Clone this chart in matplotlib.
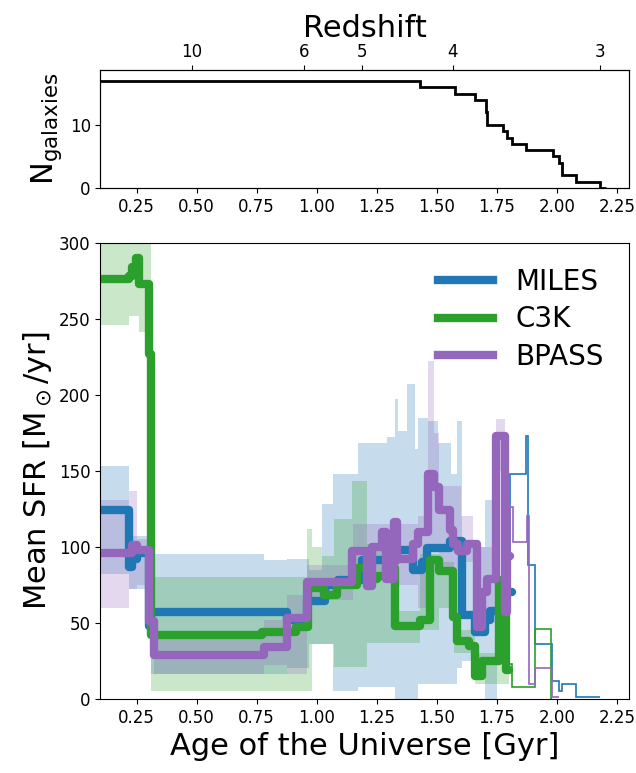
import matplotlib
matplotlib.use("Agg")
import matplotlib.pyplot as plt
import numpy as np

# --- number of galaxies contributing vs. age ---
n_edges = [0.10, 1.429, 1.574, 1.660, 1.703, 1.705, 1.707, 1.709, 1.777, 1.794,
           1.812, 1.870, 1.985, 2.007, 2.021, 2.080, 2.181, 2.204]
n_gal = [17, 16, 15, 14, 13, 12, 11, 10, 9, 8, 7, 6, 5, 4, 2, 1, 0]

# redshift ticks on the top axis (age in Gyr where each z sits)
z_labels = ["10", "6", "5", "4", "3"]
z_ages = [0.479, 0.946, 1.190, 1.566, 2.181]

# --- MILES ---
miles_edges = [0.10, 0.218, 0.232, 0.250, 0.300, 0.312, 0.877, 0.960, 1.035, 1.090,
               1.190, 1.333, 1.400, 1.440, 1.458, 1.556, 1.604, 1.660, 1.700, 1.722,
               1.790, 1.812]
miles_sfr = [124, 87, 92, 96, 48, 57, 52, 64, 75, 78, 91, 98, 85, 90, 99, 104, 55, 44,
             52, 58, 70]
miles_thin_edges = [1.790, 1.806, 1.872, 1.878, 1.910, 1.978, 2.007, 2.021, 2.080, 2.181]
miles_thin_sfr = [70, 148, 173, 88, 36, 12, 5, 9.5, 1]
miles_band_edges = [0.10, 0.218, 0.300, 0.312, 0.780, 0.877, 0.968, 1.021, 1.069, 1.173,
                    1.291, 1.326, 1.340, 1.375, 1.409, 1.423, 1.465, 1.507, 1.560, 1.583,
                    1.604, 1.700, 1.750, 1.806]
miles_lo = [82, 72, 40, 16, 16, 20, 36, 36, 5, 8, 8, 0, 0, 0, 0, 10, 10, 10, 10, 20,
            25, 0, 40]
miles_hi = [153, 107, 100, 95, 91, 92, 85, 128, 148, 168, 172, 197, 176, 207, 164, 185,
            183, 168, 148, 183, 100, 131, 80]

# --- C3K ---
c3k_edges = [0.10, 0.218, 0.232, 0.246, 0.262, 0.300, 0.312, 0.774, 0.912, 0.965,
             1.030, 1.085, 1.167, 1.215, 1.250, 1.290, 1.326, 1.430, 1.470, 1.510,
             1.569, 1.583, 1.632, 1.660, 1.687, 1.760, 1.790, 1.800]
c3k_sfr = [276, 278, 284, 290, 273, 227, 42, 44, 47, 73, 68, 75, 86, 79, 81, 86, 48, 52,
           91, 84, 54, 38, 35, 15, 25, 78, 19]
c3k_thin_edges = [1.790, 1.800, 1.812, 1.907, 1.975, 1.980]
c3k_thin_sfr = [19, 23, 8, 46, 0]
c3k_band_edges = [0.10, 0.218, 0.262, 0.312, 0.960, 0.980, 1.024, 1.072, 1.146, 1.208,
                  1.326, 1.430, 1.510, 1.570, 1.660, 1.800]
c3k_lo = [246, 252, 241, 5, 5, 36, 36, 21, 21, 37, 37, 45, 60, 30, 10]
c3k_hi = [310, 310, 310, 80, 112, 100, 94, 118, 143, 102, 58, 95, 90, 45, 30]

# --- BPASS ---
bpass_edges = [0.10, 0.232, 0.250, 0.300, 0.322, 0.780, 0.877, 0.960, 1.146, 1.208,
               1.229, 1.270, 1.290, 1.320, 1.333, 1.400, 1.423, 1.465, 1.490, 1.510,
               1.555, 1.569, 1.590, 1.625, 1.667, 1.690, 1.708, 1.748, 1.782, 1.792,
               1.806]
bpass_sfr = [96, 101, 98, 51, 29, 34, 53, 77, 97, 74, 100, 110, 79, 116, 92, 102, 110,
             148, 139, 124, 111, 102, 97, 102, 47, 70, 79, 173, 57, 94]
bpass_thin_edges = [1.792, 1.806, 1.819, 1.875, 1.883, 1.909, 1.978, 2.007]
bpass_thin_sfr = [94, 126, 103, 120, 10, 20.5, 1]
bpass_band_edges = [0.10, 0.218, 0.250, 0.300, 0.322, 0.780, 0.877, 0.960, 1.150, 1.330,
                    1.420, 1.465, 1.490, 1.510, 1.600, 1.650, 1.748, 1.782, 1.806]
bpass_lo = [60, 72, 75, 45, 16, 22, 16, 65, 80, 75, 60, 100, 100, 85, 90, 50, 150, 55]
bpass_hi = [131, 137, 105, 100, 41, 52, 68, 88, 115, 115, 120, 222, 175, 140, 120, 100,
            184, 100]

series = [
    ("MILES", "tab:blue", miles_edges, miles_sfr, miles_thin_edges, miles_thin_sfr,
     miles_band_edges, miles_lo, miles_hi),
    ("C3K", "tab:green", c3k_edges, c3k_sfr, c3k_thin_edges, c3k_thin_sfr,
     c3k_band_edges, c3k_lo, c3k_hi),
    ("BPASS", "tab:purple", bpass_edges, bpass_sfr, bpass_thin_edges, bpass_thin_sfr,
     bpass_band_edges, bpass_lo, bpass_hi),
]

fig = plt.figure(figsize=(6.36, 7.73), dpi=100)
ax_n = fig.add_axes([0.158, 0.757, 0.831, 0.152])
ax = fig.add_axes([0.158, 0.096, 0.831, 0.590])

xticks = np.arange(0.25, 2.26, 0.25)

# top panel
ax_n.stairs(n_gal, n_edges, baseline=None, color="k", lw=2)
ax_n.set_xlim(0.1, 2.3)
ax_n.set_ylim(0, 18.7)
ax_n.set_xticks(xticks)
ax_n.set_yticks([0, 10])
ax_n.tick_params(labelsize=12)
ax_n.set_ylabel(r"N$_{\mathrm{galaxies}}$", fontsize=22)

ax_z = ax_n.twiny()
ax_z.set_xlim(ax_n.get_xlim())
ax_z.set_xticks(z_ages, z_labels)
ax_z.tick_params(labelsize=12)
ax_z.set_xlabel("Redshift", fontsize=22)

# bottom panel: bands first, then lines
for name, col, e, v, te, tv, be, lo, hi in series:
    ax.stairs(hi, be, baseline=lo, fill=True, color=col, alpha=0.25, lw=0)
for name, col, e, v, te, tv, be, lo, hi in series:
    ax.stairs(tv, te, baseline=None, color=col, lw=1.2)
    ax.stairs(v, e, baseline=None, color=col, lw=6, joinstyle="round",
              capstyle="round")
    ax.plot([], [], color=col, lw=6, label=name)

ax.set_xlim(0.1, 2.3)
ax.set_ylim(0, 300)
ax.set_xticks(xticks)
ax.tick_params(labelsize=12)
ax.set_xlabel("Age of the Universe [Gyr]", fontsize=22)
ax.set_ylabel(r"Mean SFR [M$_\odot$/yr]", fontsize=22)
ax.legend(loc="upper right", frameon=False, fontsize=20, handlelength=2.0,
          labelspacing=0.35)

fig.savefig("out.png", dpi=100)
